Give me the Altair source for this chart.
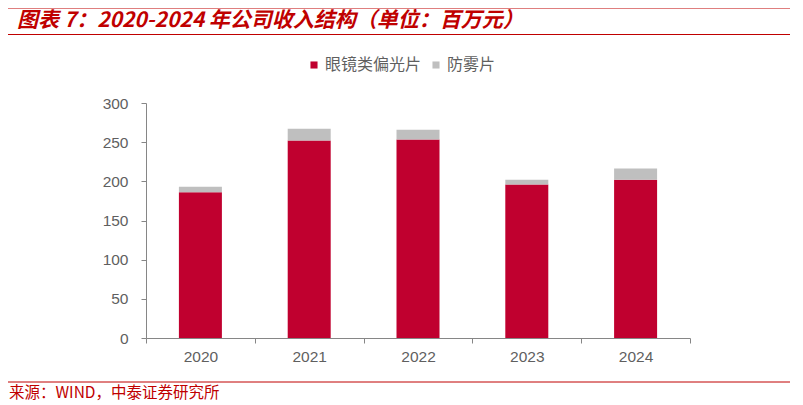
import pandas as pd
import altair as alt

# data (units: million yuan)
years = ["2020", "2021", "2022", "2023", "2024"]
lens_values = [186, 252, 253.5, 196, 202]
antifog_values = [7, 15, 12.5, 6, 14.5]
series_names = ["眼镜类偏光片", "防雾片"]
series_colors = ["#C0002F", "#BFBFBF"]

title_text = "图表 7：2020-2024 年公司收入结构（单位：百万元）"
source_text = "来源：WIND，中泰证券研究所"

RED = "#C00000"
GREY_TEXT = "#5F5F5F"
AXIS_GREY = "#868686"
CJK = "Noto Sans CJK SC"

rows = []
for i, y in enumerate(years):
    rows.append({"year": y, "series": series_names[0], "value": lens_values[i], "order": 0})
    rows.append({"year": y, "series": series_names[1], "value": antifog_values[i], "order": 1})
df = pd.DataFrame(rows)

bars = (
    alt.Chart(df)
    .mark_bar(size=43)
    .encode(
        x=alt.X("year:N", title=None,
                scale=alt.Scale(paddingInner=0, paddingOuter=0),
                axis=alt.Axis(labelAngle=0, tickBand="extent", tickSize=5,
                              labelPadding=6, labelFontSize=15.5, labelColor=GREY_TEXT,
                              labelFont="Liberation Sans", domainColor=AXIS_GREY,
                              tickColor=AXIS_GREY)),
        y=alt.Y("value:Q", title=None, stack="zero",
                scale=alt.Scale(domain=[0, 300], nice=False),
                axis=alt.Axis(values=[0, 50, 100, 150, 200, 250, 300], grid=False,
                              tickSize=5, labelPadding=13, labelFontSize=15.5,
                              labelColor=GREY_TEXT, labelFont="Liberation Sans",
                              domainColor=AXIS_GREY, tickColor=AXIS_GREY)),
        color=alt.Color("series:N",
                        scale=alt.Scale(domain=series_names, range=series_colors),
                        legend=alt.Legend(title=None, orient="none", direction="horizontal",
                                          legendX=160, legendY=-46, symbolType="square",
                                          symbolSize=50, symbolStrokeWidth=0,
                                          labelFont=CJK, labelFontSize=16, labelOffset=3,
                                          labelColor=GREY_TEXT, columnPadding=6)),
        order=alt.Order("order:Q", sort="ascending"),
    )
)

one = pd.DataFrame({"k": [0]})

top_line = alt.Chart(one).mark_rule(color=RED, strokeWidth=3).encode(
    x=alt.value(-141), x2=alt.value(657), y=alt.value(-96))
title_line = alt.Chart(one).mark_rule(color=RED, strokeWidth=1).encode(
    x=alt.value(-141), x2=alt.value(657), y=alt.value(-68.5))
bottom_line = alt.Chart(one).mark_rule(color=RED, strokeWidth=1).encode(
    x=alt.value(-141), x2=alt.value(657), y=alt.value(279))

title = alt.Chart(one).mark_text(
    align="left", baseline="alphabetic", font=CJK, fontSize=21, fontWeight="bold",
    fontStyle="italic", color=RED
).encode(x=alt.value(-129), y=alt.value(-76), text=alt.value(title_text))

source = alt.Chart(one).mark_text(
    align="left", baseline="middle", font=CJK, fontSize=15.5, color=RED
).encode(x=alt.value(-137), y=alt.value(290), text=alt.value(source_text))

chart = (
    alt.layer(bars, top_line, title_line, bottom_line, title, source)
    .properties(width=544, height=235,
                padding={"left": 138, "top": 95, "right": 100, "bottom": 66},
                autosize=alt.AutoSizeParams(type="none"))
    .configure_view(stroke=None)
)

chart.save("out.html", embed_options={"renderer": "svg", "actions": False})
